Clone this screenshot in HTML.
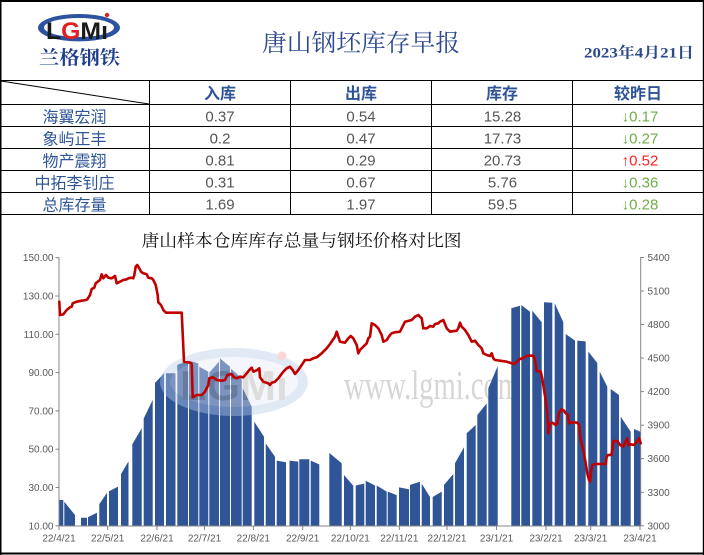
<!DOCTYPE html>
<html><head><meta charset="utf-8"><style>
html,body{margin:0;padding:0;background:#fff;}
body{width:704px;height:555px;overflow:hidden;}
svg{display:block;}
.cn{font-family:"Liberation Sans","Noto Sans CJK SC",sans-serif;}
.num{font-family:"Liberation Sans","DejaVu Sans",sans-serif;}
.ax{font-family:"Liberation Sans",sans-serif;font-size:10px;fill:#595959;}
</style></head><body>
<svg width="704" height="555" viewBox="0 0 704 555" xmlns="http://www.w3.org/2000/svg">
<rect width="704" height="555" fill="#fff"/>

<!-- Logo -->
<ellipse cx="79" cy="27.7" rx="41" ry="13.7" fill="#2d52a0"/>
<ellipse cx="79" cy="27.5" rx="35" ry="9.5" fill="#ffffff"/>
<text x="46" y="39" font-family="Liberation Sans, sans-serif" font-weight="bold" font-size="24" textLength="62" lengthAdjust="spacingAndGlyphs"><tspan fill="#1a1a1a">L</tspan><tspan fill="#e02020">G</tspan><tspan fill="#1a1a1a">M</tspan><tspan fill="#1a1a1a">ı</tspan></text>
<circle cx="107" cy="15" r="2.2" fill="#e02020"/>
<text x="39" y="64" font-family="Liberation Serif, Noto Serif CJK SC, serif" font-weight="bold" font-size="19" fill="#1f3e8c" textLength="81" lengthAdjust="spacingAndGlyphs">兰格钢铁</text>

<!-- Title -->
<text x="262" y="51" font-family="Liberation Serif, Noto Serif CJK SC, serif" font-size="24" fill="#2e4a8c" textLength="198" lengthAdjust="spacingAndGlyphs">唐山钢坯库存早报</text>
<text x="584" y="57.5" font-family="Liberation Serif, Noto Serif CJK SC, serif" font-weight="bold" font-size="15" fill="#2e4a8c" textLength="110" lengthAdjust="spacingAndGlyphs">2023年4月21日</text>

<!-- Table lines -->
<g fill="#000">
<rect x="0" y="80" width="704" height="1"/>
<rect x="0" y="104" width="704" height="1"/>
<rect x="0" y="126" width="704" height="1"/>
<rect x="0" y="148" width="704" height="1"/>
<rect x="0" y="170" width="704" height="1"/>
<rect x="0" y="192" width="704" height="1"/>
<rect x="0" y="214" width="704" height="1"/>
<rect x="149" y="80" width="1" height="135"/>
<rect x="290" y="80" width="1" height="135"/>
<rect x="431" y="80" width="1" height="135"/>
<rect x="572" y="80" width="1" height="135"/>
</g>
<line x1="1" y1="81" x2="149" y2="104" stroke="#000" stroke-width="1"/>

<!-- Header -->
<g class="cn" font-size="16" font-weight="bold" fill="#2f5597" text-anchor="middle">
<text x="220" y="99">入库</text>
<text x="361" y="99">出库</text>
<text x="502" y="99">库存</text>
<text x="638" y="99">较昨日</text>
</g>

<!-- Names -->
<g class="cn" font-size="16" fill="#2f5597" text-anchor="middle">
<text x="74.5" y="122.5">海翼宏润</text>
<text x="74.5" y="144.5">象屿正丰</text>
<text x="74.5" y="166.5">物产震翔</text>
<text x="74.5" y="188.5">中拓李钊庄</text>
<text x="74.5" y="210.5">总库存量</text>
</g>

<!-- Numbers -->
<g class="num" font-size="15" fill="#555" text-anchor="middle">
<text x="220" y="121.7">0.37</text>
<text x="361" y="121.7">0.54</text>
<text x="502.5" y="121.7">15.28</text>
<text x="220" y="143.7">0.2</text>
<text x="361" y="143.7">0.47</text>
<text x="502.5" y="143.7">17.73</text>
<text x="220" y="165.7">0.81</text>
<text x="361" y="165.7">0.29</text>
<text x="502.5" y="165.7">20.73</text>
<text x="220" y="187.7">0.31</text>
<text x="361" y="187.7">0.67</text>
<text x="502.5" y="187.7">5.76</text>
<text x="220" y="209.7">1.69</text>
<text x="361" y="209.7">1.97</text>
<text x="502.5" y="209.7">59.5</text>
</g>
<g class="num" font-size="15" text-anchor="middle">
<text x="640" y="121.7" fill="#70ad47">↓0.17</text>
<text x="640" y="143.7" fill="#70ad47">↓0.27</text>
<text x="640" y="165.7" fill="#ff2020">↑0.52</text>
<text x="640" y="187.7" fill="#70ad47">↓0.36</text>
<text x="640" y="209.7" fill="#70ad47">↓0.28</text>
</g>

<!-- Chart title -->
<text x="141.5" y="246.5" font-family="Liberation Serif, Noto Serif CJK SC, serif" font-size="17" fill="#111" textLength="320" lengthAdjust="spacingAndGlyphs">唐山样本仓库库存总量与钢坯价格对比图</text>

<!-- watermark text (behind bars) -->
<text x="344" y="399" font-family="Liberation Serif, serif" font-size="41" fill="#d6d6d6" textLength="176" lengthAdjust="spacingAndGlyphs">www.lgmi.com</text>

<!-- Bars -->
<path fill="#2f5597" d="
M59.3 526V500L63.3 500V526Z
M64.3 526V501.8L75 515V526Z
M81 526V517.7L87 517.7V526Z
M88 526V517.1L97 512.7V526Z
M99.3 526V504.1L107 492.8V526Z
M109 526V491.2L118 486.6V526Z
M121 526V474L128.5 461.4V526Z
M132.3 526V444.3L141.7 428.3V526Z
M143.7 526V418.5L152.7 399.9V526Z
M155 526V382.9L164 373.3V526Z
M166 526V373.3L175.5 373.3V526Z
M177.3 526V364.9L188 360.7V526Z
M189 526V360.7L198.3 363.4V526Z
M199.3 526V366.8L208.3 371.6V526Z
M209.3 526V372.6L219 361.6V526Z
M220 526V358.4L230 366.8V526Z
M231 526V368.7L241.7 378.3V526Z
M242.7 526V388.3L251.7 406.6V526Z
M254.3 526V421.8L264 436.7V526Z
M265.7 526V443.4L275 456.8V526Z
M276.7 526V460.6L286 462.3V526Z
M289.5 526V460.6L298.3 461.6V526Z
M299.3 526V459.3L309.3 459.3V526Z
M310.7 526V460.6L319.3 464.4V526Z
M329.3 526V453L341.7 463.3V526Z
M344 526V475L353.3 485.7V526Z
M355.7 526V485.5L364.3 483.6V526Z
M365.7 526V480.7L375 485.5V526Z
M376.7 526V485.5L386.7 491.6V526Z
M387.7 526V491.6L396.7 495.1V526Z
M399 526V487.4L409 489.3V526Z
M410 526V484.9L420 481.7V526Z
M421.7 526V483.6L430 497V526Z
M432.7 526V497L441.7 491.6V526Z
M444 526V484.9L453.3 474V526Z
M455 526V463.3L464 447.2V526Z
M466.7 526V433.2L475.7 425V526Z
M477.3 526V415.1L486.7 403.2V526Z
M488.3 526V388.3L497.7 366.1V526Z
M511.3 526V308.2L520 305.7V526Z
M521.3 526V305L530 311.7V526Z
M532.3 526V310.7L541.7 322.2V526Z
M544 526V302.3L552.3 302.7V526Z
M554.7 526V303.3L563.3 322.2V526Z
M565.7 526V334L575 340.6V526Z
M577.3 526V340.6L585.7 341.4V526Z
M588.3 526V351.5L597.3 363V526Z
M599.7 526V371.6L607.3 386.7V526Z
M610.7 526V389L619 395V526Z
M620.7 526V416.6L630.7 431.7V526Z
M634 526V429L640.7 431.9V526Z"/>

<!-- logo watermark over bars -->
<g opacity="0.42">
<ellipse cx="234" cy="382" rx="74" ry="34" fill="#b8cbe8"/>
<ellipse cx="234" cy="382" rx="64" ry="25" fill="#e6ecf6"/>
<text x="180" y="400" font-family="Liberation Sans, sans-serif" font-weight="bold" font-size="42" fill="#b0b0b0" textLength="108" lengthAdjust="spacingAndGlyphs">LGMı</text>
<circle cx="282" cy="356" r="4.5" fill="#f0a0a8"/>
</g>

<!-- Axes -->
<g fill="#878787">
<rect x="58.5" y="257" width="1" height="269.5"/>
<rect x="640.2" y="257" width="1" height="269.5"/>
<rect x="58.5" y="525.5" width="582.7" height="1"/>
<rect x="55.5" y="257.2" width="3" height="1"/>
<rect x="55.5" y="295.5" width="3" height="1"/>
<rect x="55.5" y="333.8" width="3" height="1"/>
<rect x="55.5" y="372.1" width="3" height="1"/>
<rect x="55.5" y="410.4" width="3" height="1"/>
<rect x="55.5" y="448.7" width="3" height="1"/>
<rect x="55.5" y="487" width="3" height="1"/>
<rect x="55.5" y="525.3" width="3" height="1"/>
<rect x="641" y="257" width="3" height="1"/>
<rect x="641" y="290.5" width="3" height="1"/>
<rect x="641" y="324" width="3" height="1"/>
<rect x="641" y="357.6" width="3" height="1"/>
<rect x="641" y="391.1" width="3" height="1"/>
<rect x="641" y="424.7" width="3" height="1"/>
<rect x="641" y="458.2" width="3" height="1"/>
<rect x="641" y="491.8" width="3" height="1"/>
<rect x="641" y="525.3" width="3" height="1"/>
<rect x="58.5" y="526" width="1" height="4"/>
<rect x="107.2" y="526" width="1" height="4"/>
<rect x="156.5" y="526" width="1" height="4"/>
<rect x="204" y="526" width="1" height="4"/>
<rect x="252.8" y="526" width="1" height="4"/>
<rect x="302.2" y="526" width="1" height="4"/>
<rect x="349.8" y="526" width="1" height="4"/>
<rect x="398.8" y="526" width="1" height="4"/>
<rect x="446.5" y="526" width="1" height="4"/>
<rect x="496" y="526" width="1" height="4"/>
<rect x="545.5" y="526" width="1" height="4"/>
<rect x="590.2" y="526" width="1" height="4"/>
<rect x="639.5" y="526" width="1" height="4"/>
</g>

<g class="ax" text-anchor="end">
<text x="53.5" y="261.2">150.00</text>
<text x="53.5" y="299.5">130.00</text>
<text x="53.5" y="337.8">110.00</text>
<text x="53.5" y="376.1">90.00</text>
<text x="53.5" y="414.4">70.00</text>
<text x="53.5" y="452.7">50.00</text>
<text x="53.5" y="491">30.00</text>
<text x="53.5" y="529.3">10.00</text>
</g>
<g class="ax" text-anchor="start">
<text x="647.5" y="261">5400</text>
<text x="647.5" y="294.5">5100</text>
<text x="647.5" y="328">4800</text>
<text x="647.5" y="361.6">4500</text>
<text x="647.5" y="395.1">4200</text>
<text x="647.5" y="428.7">3900</text>
<text x="647.5" y="462.2">3600</text>
<text x="647.5" y="495.8">3300</text>
<text x="647.5" y="529.3">3000</text>
</g>
<g class="ax" text-anchor="middle">
<text x="59" y="541.5">22/4/21</text>
<text x="107.7" y="541.5">22/5/21</text>
<text x="157" y="541.5">22/6/21</text>
<text x="204.5" y="541.5">22/7/21</text>
<text x="253.3" y="541.5">22/8/21</text>
<text x="302.7" y="541.5">22/9/21</text>
<text x="350.3" y="541.5">22/10/21</text>
<text x="399.3" y="541.5">22/11/21</text>
<text x="447" y="541.5">22/12/21</text>
<text x="496.5" y="541.5">23/1/21</text>
<text x="546" y="541.5">23/2/21</text>
<text x="590.7" y="541.5">23/3/21</text>
<text x="640" y="541.5">23/4/21</text>
</g>

<!-- Price line -->
<path fill="none" stroke="#c00000" stroke-width="2.6" stroke-linejoin="round" stroke-linecap="round" d="M59.3 301.7 L60 315 L63.3 314.3 L66.7 310 L70 307.3 L71.7 306.7 L72.7 303.3 L76.7 301.7 L81.7 300.7 L86 300 L87.3 299.3 L90 295 L91.7 289 L94.3 287.7 L95.7 283.3 L97.7 281.7 L100 280 L101.7 274.3 L103.3 278.3 L106 275 L108.3 277.7 L111.7 278.3 L115 276 L116.7 283.3 L120 281.7 L123.3 280 L126.7 279.3 L128.3 278.3 L131 277.7 L133.3 278.3 L134.3 275 L135.7 266.7 L137.3 265 L139.3 268.3 L141 271.7 L143.3 273.3 L146.7 274.3 L148.3 277.7 L151.7 278.3 L153.3 280 L155.7 285 L157.7 295 L158.3 302.3 L161 305 L163.3 310 L166 312.7 L181.7 312.7 L183 340 L184 361.7 L190 362.7 L191.7 364 L192.7 397.3 L196.7 395 L201.7 395 L205 391.7 L208.3 385 L209.3 378.3 L212.7 377.3 L216.7 380 L221.7 380.7 L225 380 L227.3 375 L231.7 374 L233.3 376.7 L236.7 378.3 L240 376.7 L243.3 377.3 L246.7 373.3 L249.3 370 L251.7 367.7 L253.3 371.7 L257.3 370 L259.3 368.3 L260 377.3 L263.3 381.7 L268.3 383.3 L270 385 L271.7 382.7 L275 381.7 L278.3 378.3 L283.3 371.7 L286.7 368.3 L290 366.7 L292.7 370 L295 374 L298.3 370 L301.7 365 L305 360 L310 360 L313.3 358.3 L316.7 357.3 L321.7 353.3 L326.7 348.3 L330 344 L332.7 340 L335 336.7 L336.7 331.7 L338.3 336.7 L340 341.7 L345 342.7 L348.3 338.3 L350.7 336 L353.3 338.3 L356.7 345 L358.3 353.3 L360 350 L363.3 346.7 L366.7 343.3 L368.3 338.3 L370 336.7 L371.7 323.3 L375 325 L378.3 328.3 L381.7 335 L383.3 341.7 L386.7 340 L390 335 L391.7 333.3 L395 332.3 L400 331.7 L401.7 328.3 L405 321.7 L411.7 320 L415 316.7 L418.3 315 L420 316.7 L421.7 318.3 L423.3 328.3 L426.7 328.3 L430 326 L433.3 326.7 L435 324 L438.3 323.3 L440 321.7 L443.3 320 L446.7 328.3 L450 331.7 L456.7 330.7 L458.3 328.3 L460 322.7 L461.7 326.7 L465 330 L468.3 335 L471.7 341.7 L475 340.7 L478.3 345 L481.7 348.3 L483.3 353.3 L486.7 355 L490 356 L491.7 353.3 L493.3 358.3 L495 360 L500 360.7 L506.7 361.7 L514 364 L517.3 361.7 L519 359.3 L524 357.7 L527.3 355.7 L533.3 355.7 L534.7 358.3 L536.7 371 L540.7 371.7 L542.3 378.3 L544 390 L545.7 400 L547.3 413.3 L548.3 433.3 L550 423.3 L552.3 422.7 L555.7 425 L557.3 423.3 L559 413.3 L561.3 409.3 L564 410.7 L565.7 413.3 L568 415 L569 423.3 L570.7 422.7 L574 422.3 L577.3 422.7 L579 425 L580.7 440 L583.3 450 L585.7 463.3 L587.3 473.3 L589 480 L590 481.7 L591.3 470 L592.3 465 L595.7 464 L605.7 464 L606.7 456.7 L608 455 L611.3 455 L612.3 450 L613.3 441 L617.3 441 L620 445 L623.3 446.7 L624.7 443.3 L627.3 438.3 L628.3 445 L630.7 444.3 L634 445 L636.7 441.7 L639 438.3 L640.7 443.3"/>

<!-- Outer border -->
<g fill="#000">
<rect x="0" y="0" width="704" height="2"/>
<rect x="0" y="0" width="1.5" height="555"/>
<rect x="702.8" y="0" width="1.2" height="555"/>
<rect x="0" y="552.5" width="704" height="2"/>
</g>
</svg>
</body></html>
